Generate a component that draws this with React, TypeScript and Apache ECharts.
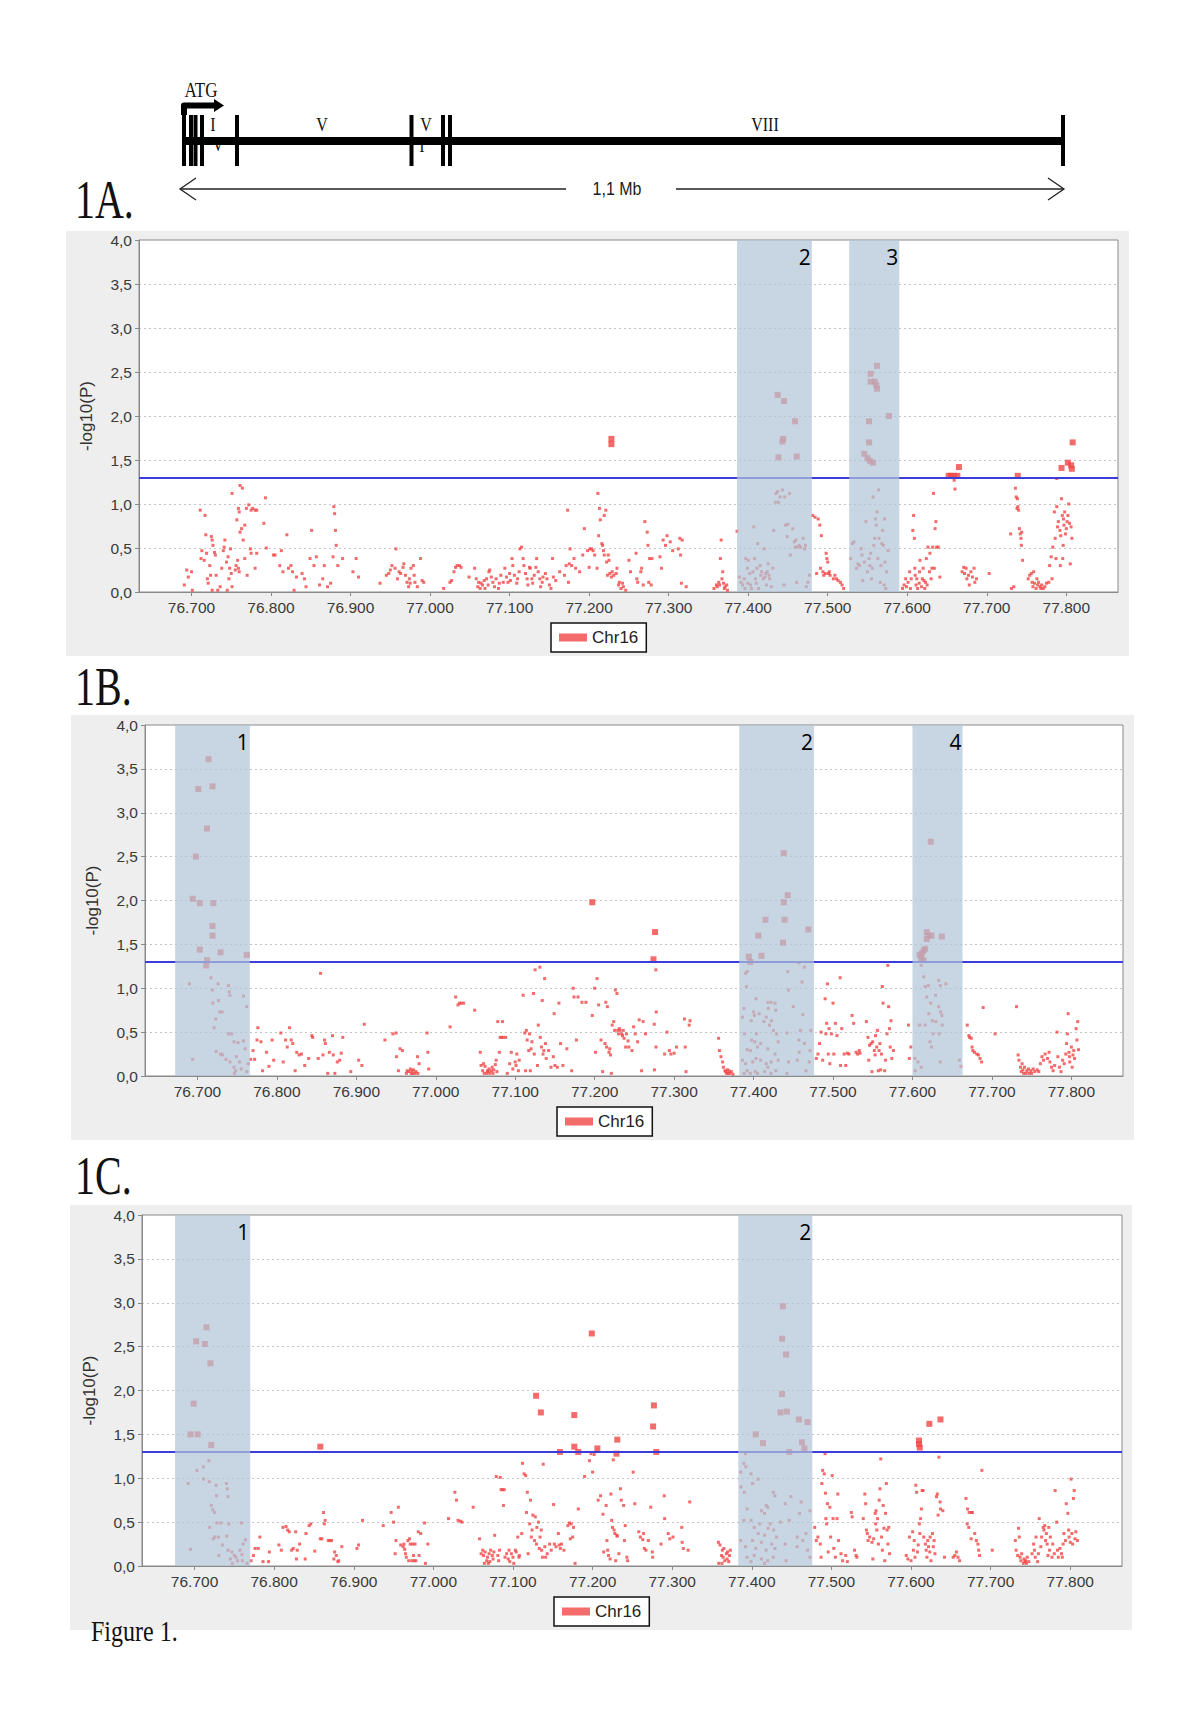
import React, { useEffect, useRef } from "react";
import * as echarts from "echarts";

const SANS = '"Liberation Sans", Arial, sans-serif';
const SERIF = '"Liberation Serif", "Times New Roman", serif';
const RED = "#f04646";
const THRESH = 1.301;
const XMIN = 76.634;
const XMAX = 77.865;
const X_TICKS = [76.7, 76.8, 76.9, 77.0, 77.1, 77.2, 77.3, 77.4, 77.5, 77.6, 77.7, 77.8];
const LEGEND_NAME = "Chr16";

// ---------- Panel 1A ----------
const regionsA = [[77.386, 77.48, "2"], [77.527, 77.59, "3"]];
const bigA = [[77.228,1.74],[77.228,1.68],[77.437,2.24],[77.445,2.17],[77.459,1.94],[77.444,1.74],[77.443,1.71],[77.438,1.53],[77.461,1.54],[77.562,2.57],[77.554,2.48],[77.554,2.39],[77.559,2.39],[77.561,2.35],[77.562,2.31],[77.577,2.0],[77.552,1.94],[77.552,1.7],[77.546,1.57],[77.55,1.52],[77.553,1.49],[77.557,1.47],[77.652,1.32],[77.655,1.32],[77.659,1.32],[77.663,1.32],[77.665,1.42],[77.739,1.32],[77.794,1.41],[77.802,1.47],[77.806,1.44],[77.807,1.4],[77.808,1.7]];
const smallA = [
[76.691,0.08],[76.694,0.25],[76.696,0.17],[76.7,0.23],[76.701,0.02],
[76.711,0.93],[76.717,0.87],[76.712,0.38],[76.713,0.47],[76.718,0.65],[76.721,0.1],[76.723,0.3],[76.725,0.63],[76.726,0.59],[76.727,0.53],[76.729,0.45],[76.73,0.42],[76.731,0.19],[76.736,0.06],[76.719,0.44],[76.724,0.19],[76.716,0.36],[76.72,0.15],[76.738,0.27],[76.74,0.47],[76.741,0.51],[76.742,0.59],[76.744,0.34],[76.746,0.4],[76.747,0.15],[76.748,0.27],[76.749,0.49],[76.75,0.21],[76.751,0.06],[76.755,0.25],[76.756,0.3],[76.758,0.36],[76.759,0.27],[76.76,0.23],[76.726,0.02],[76.733,0.02],[76.745,0.02],
[76.751,1.12],[76.757,0.82],[76.759,0.95],[76.76,0.91],[76.761,1.21],[76.764,1.18],[76.763,0.72],[76.761,0.68],[76.765,0.59],[76.767,0.76],[76.769,0.95],[76.772,0.99],[76.775,0.93],[76.777,0.95],[76.78,0.93],[76.782,0.93],[76.774,0.49],[76.775,0.44],[76.767,0.38],[76.77,0.19],[76.78,0.27],[76.782,0.44],[76.791,0.78],[76.793,1.07],[76.794,0.5],[76.803,0.42],
[76.805,0.42],[76.811,0.3],[76.813,0.47],[76.815,0.23],[76.82,0.65],[76.822,0.27],[76.825,0.3],[76.827,0.23],[76.829,0.02],[76.832,0.17],[76.839,0.21],[76.842,0.15],[76.844,0.06],[76.849,0.38],[76.851,0.7],[76.854,0.3],[76.857,0.4],[76.861,0.08],[76.865,0.15],[76.867,0.3],[76.871,0.06],[76.875,0.1],[76.878,0.4],[76.879,0.97],[76.88,0.89],[76.881,0.7],[76.882,0.53],[76.884,0.3],[76.89,0.38],[76.903,0.23],[76.907,0.38],[76.91,0.17],
[76.937,0.1],[76.945,0.19],[76.948,0.21],[76.95,0.25],[76.952,0.3],[76.956,0.27],[76.957,0.49],[76.959,0.15],[76.961,0.23],[76.963,0.21],[76.966,0.28],[76.967,0.32],[76.969,0.19],[76.971,0.11],[76.973,0.06],[76.974,0.15],[76.975,0.1],[76.976,0.27],[76.979,0.3],[76.98,0.19],[76.981,0.11],[76.984,0.06],[76.988,0.38],[76.99,0.13],[76.992,0.11],
[77.017,0.04],[77.025,0.11],[77.027,0.13],[77.03,0.23],[77.032,0.28],[77.034,0.3],[77.037,0.3],[77.039,0.28],[77.049,0.17],
[77.056,0.27],[77.058,0.15],[77.06,0.06],[77.061,0.11],[77.063,0.04],[77.064,0.1],[77.066,0.08],[77.068,0.13],[77.069,0.04],[77.071,0.15],[77.073,0.08],[77.074,0.23],[77.075,0.25],[77.077,0.17],[77.079,0.11],[77.081,0.06],[77.083,0.15],[77.086,0.04],[77.087,0.1],[77.089,0.19],[77.092,0.11],[77.094,0.27],[77.096,0.17],[77.098,0.11],[77.1,0.21],[77.101,0.13],[77.103,0.38],[77.104,0.3],[77.106,0.19],[77.109,0.1],[77.11,0.15],[77.112,0.23],[77.113,0.49],[77.115,0.51],[77.117,0.38],[77.118,0.3],[77.12,0.21],[77.122,0.15],[77.123,0.08],[77.125,0.28],[77.126,0.27],[77.128,0.15],[77.129,0.1],[77.131,0.19],[77.133,0.28],[77.134,0.38],[77.136,0.23],[77.138,0.15],[77.139,0.06],[77.141,0.11],[77.142,0.17],[77.145,0.21],[77.147,0.15],[77.15,0.08],[77.152,0.04],[77.154,0.38],[77.155,0.17],[77.158,0.13],
[77.163,0.23],[77.169,0.19],[77.171,0.3],[77.173,0.93],[77.174,0.11],[77.175,0.32],[77.176,0.49],[77.178,0.3],[77.181,0.38],[77.183,0.27],[77.188,0.23],[77.192,0.42],[77.194,0.72],[77.198,0.47],[77.2,0.28],[77.201,0.49],[77.203,0.49],[77.205,0.47],[77.207,0.42],[77.21,0.27],[77.211,1.12],[77.212,0.64],[77.213,0.95],[77.214,0.82],[77.216,0.55],[77.217,0.53],[77.218,0.47],[77.219,0.87],[77.221,0.93],[77.219,0.42],[77.222,0.34],[77.223,0.19],[77.224,0.42],[77.225,0.36],[77.226,0.21],[77.228,0.17],[77.229,0.23],[77.231,0.19],[77.234,0.21],[77.235,0.27],[77.237,0.08],[77.238,0.11],[77.24,0.04],[77.242,0.1],[77.243,0.06],[77.246,0.02],
[77.25,0.36],[77.252,0.23],[77.259,0.44],[77.26,0.15],[77.261,0.11],[77.265,0.23],[77.266,0.27],[77.268,0.08],[77.27,0.8],[77.273,0.68],[77.274,0.53],[77.275,0.11],[77.276,0.38],[77.278,0.08],[77.279,0.38],[77.289,0.4],[77.291,0.27],[77.293,0.59],[77.296,0.53],[77.298,0.64],[77.302,0.57],[77.305,0.47],[77.312,0.49],[77.314,0.61],[77.315,0.42],[77.316,0.1],[77.322,0.06],[77.317,0.59],
[77.357,0.04],[77.36,0.08],[77.361,0.06],[77.363,0.11],[77.364,0.08],[77.365,0.38],[77.366,0.59],[77.367,0.15],[77.368,0.23],[77.369,0.1],[77.37,0.04],[77.371,0.06],[77.373,0.08],[77.374,0.02],
[77.386,0.69],[77.389,0.17],[77.391,0.11],[77.393,0.08],[77.395,0.15],[77.396,0.04],[77.397,0.38],[77.399,0.27],[77.3995,0.1],[77.4,0.36],[77.402,0.21],[77.403,0.08],[77.404,0.04],[77.406,0.23],[77.407,0.74],[77.408,0.38],[77.409,0.15],[77.41,0.1],[77.411,0.27],[77.412,0.55],[77.413,0.04],[77.415,0.3],[77.416,0.19],[77.417,0.23],[77.419,0.15],[77.42,0.49],[77.421,0.17],[77.422,0.21],[77.423,0.08],[77.424,0.23],[77.425,0.32],[77.426,0.19],[77.427,0.15],[77.429,0.06],[77.431,0.27],[77.432,0.7],[77.434,1.02],[77.435,1.12],[77.437,1.14],[77.438,1.02],[77.44,1.08],[77.443,1.16],[77.445,0.08],[77.446,1.08],[77.447,0.76],[77.449,0.63],[77.45,0.77],[77.452,1.12],[77.453,0.42],[77.456,0.72],[77.458,0.57],[77.459,0.51],[77.46,0.59],[77.461,0.11],[77.462,0.51],[77.464,0.53],[77.466,0.51],[77.469,0.61],[77.471,0.49],[77.472,0.53],[77.473,0.06],[77.475,0.11],[77.477,0.19],
[77.481,0.87],[77.484,0.85],[77.486,0.21],[77.488,0.83],[77.49,0.76],[77.491,0.27],[77.492,0.64],[77.494,0.23],[77.495,0.19],[77.497,0.21],[77.498,0.44],[77.499,0.38],[77.5,0.34],[77.501,0.21],[77.502,0.23],[77.503,0.19],[77.507,0.15],[77.509,0.19],[77.511,0.15],[77.513,0.13],[77.516,0.11],[77.518,0.08],[77.52,0.04],
[77.529,0.38],[77.531,0.55],[77.533,0.57],[77.536,0.27],[77.538,0.32],[77.54,0.3],[77.542,0.49],[77.543,0.42],[77.544,0.13],[77.546,0.34],[77.548,0.8],[77.55,0.23],[77.552,0.38],[77.553,0.3],[77.554,0.44],[77.555,0.15],[77.556,0.27],[77.557,1.08],[77.558,0.53],[77.559,0.61],[77.56,0.83],[77.561,0.76],[77.562,0.91],[77.563,0.38],[77.564,1.16],[77.5645,0.61],[77.566,0.11],[77.567,0.3],[77.568,0.55],[77.569,0.7],[77.57,0.53],[77.571,0.08],[77.5715,0.83],[77.572,0.34],[77.573,0.04],[77.574,0.23],[77.576,0.47],
[77.594,0.04],[77.596,0.08],[77.598,0.15],[77.599,0.06],[77.601,0.11],[77.603,0.23],[77.604,0.04],[77.605,0.15],[77.607,0.7],[77.608,0.87],[77.609,0.61],[77.6095,0.27],[77.61,0.19],[77.611,0.08],[77.612,0.15],[77.613,0.04],[77.615,0.1],[77.6155,0.23],[77.616,0.36],[77.618,0.06],[77.619,0.15],[77.62,0.27],[77.621,0.13],[77.622,0.04],[77.623,0.11],[77.624,0.38],[77.625,0.08],[77.626,0.51],[77.628,0.23],[77.6285,0.44],[77.63,0.15],[77.631,0.27],[77.632,0.51],[77.633,1.12],[77.634,0.27],[77.635,0.72],[77.636,0.8],[77.637,0.51],[77.639,0.51],[77.641,0.17],[77.659,1.27],[77.66,1.17],
[77.669,0.23],[77.671,0.28],[77.672,0.21],[77.674,0.27],[77.675,0.15],[77.677,0.19],[77.678,0.08],[77.68,0.23],[77.682,0.17],[77.684,0.27],[77.685,0.11],[77.687,0.15],[77.703,0.21],
[77.73,0.66],[77.731,0.04],[77.734,0.06],[77.736,1.18],[77.737,1.08],[77.738,0.95],[77.739,0.97],[77.74,0.93],[77.741,0.72],[77.742,0.66],[77.743,0.61],[77.7435,0.53],[77.744,0.68],[77.745,0.36],[77.7385,1.06],
[77.752,0.15],[77.754,0.19],[77.756,0.21],[77.757,0.11],[77.758,0.06],[77.759,0.23],[77.76,0.1],[77.762,0.04],[77.763,0.15],[77.764,0.08],[77.765,0.11],[77.767,0.06],[77.768,0.04],[77.769,0.08],[77.771,0.04],[77.773,0.06],[77.775,0.1],[77.778,0.11],[77.779,0.3],[77.781,0.4],[77.782,0.15],[77.783,0.51],[77.785,0.91],[77.786,0.61],[77.787,0.38],[77.788,0.97],[77.789,0.74],[77.79,0.8],[77.792,0.7],[77.793,0.64],[77.794,1.06],[77.795,0.87],[77.796,0.53],[77.7965,0.83],[77.797,0.76],[77.798,0.91],[77.799,0.66],[77.8,0.72],[77.801,0.8],[77.802,0.87],[77.803,1.0],[77.804,0.78],[77.805,0.32],[77.806,0.74],[77.807,0.61],[77.7955,0.38],[77.7925,0.3],[77.788,1.29]
];

// ---------- Panel 1B ----------
const regionsB = [[76.672, 76.766, "1"], [77.382, 77.476, "2"], [77.6, 77.663, "4"]];
const bigB = [[76.714,3.61],[76.701,3.27],[76.719,3.3],[76.712,2.82],[76.698,2.5],[76.694,2.02],[76.703,1.97],[76.72,1.97],[76.719,1.71],[76.719,1.6],[76.703,1.44],[76.729,1.41],[76.762,1.38],[76.712,1.32],[76.711,1.26],[77.197,1.98],[77.276,1.64],[77.274,1.33],[77.438,2.54],[77.443,2.06],[77.438,1.98],[77.415,1.78],[77.439,1.78],[77.469,1.67],[77.406,1.6],[77.437,1.52],[77.394,1.36],[77.41,1.37],[77.396,1.3],[77.623,2.67],[77.618,1.64],[77.62,1.6],[77.624,1.6],[77.637,1.59],[77.618,1.56],[77.616,1.45],[77.614,1.43],[77.612,1.4],[77.609,1.38],[77.611,1.34],[77.614,1.32]];
const smallB = [
[76.69,1.05],[76.717,1.12],[76.726,1.05],[76.719,0.98],[76.739,1.03],[76.74,0.96],[76.741,0.92],[76.758,0.91],[76.762,0.79],[76.7195,0.83],[76.7265,0.86],[76.728,0.73],[76.731,0.73],[76.723,0.65],[76.721,0.55],[76.739,0.48],[76.743,0.48],[76.746,0.39],[76.751,0.38],[76.758,0.4],[76.76,0.31],[76.7235,0.28],[76.729,0.25],[76.7315,0.24],[76.736,0.19],[76.694,0.19],[76.741,0.16],[76.746,0.1],[76.748,0.06],[76.749,0.22],[76.753,0.16],[76.755,0.08],[76.762,0.05],[76.764,0.14],[76.7465,0.03],
[76.767,0.19],[76.77,0.29],[76.772,0.19],[76.776,0.55],[76.775,0.41],[76.78,0.39],[76.782,0.06],[76.787,0.27],[76.79,0.11],[76.794,0.41],[76.796,0.18],[76.805,0.49],[76.808,0.16],[76.811,0.41],[76.813,0.33],[76.816,0.55],[76.818,0.41],[76.82,0.37],[76.823,0.06],[76.825,0.27],[76.828,0.24],[76.831,0.25],[76.835,0.12],[76.84,0.2],[76.844,0.46],[76.845,0.44],[76.852,0.2],[76.855,1.17],[76.858,0.24],[76.86,0.41],[76.861,0.37],[76.864,0.03],[76.866,0.27],[76.87,0.46],[76.871,0.24],[76.873,0.03],[76.876,0.16],[76.879,0.18],[76.881,0.26],[76.883,0.44],[76.893,0.05],[76.903,0.18],[76.907,0.12],[76.91,0.59],
[76.936,0.41],[76.946,0.48],[76.95,0.49],[76.9505,0.22],[76.953,0.06],[76.955,0.31],[76.958,0.29],[76.963,0.03],[76.964,0.06],[76.966,0.05],[76.968,0.08],[76.969,0.03],[76.97,0.06],[76.971,0.03],[76.972,0.07],[76.974,0.03],[76.975,0.05],[76.977,0.22],[76.9775,0.03],[76.979,0.14],[76.989,0.49],[76.99,0.27],[76.991,0.08],
[77.018,0.56],[77.025,0.9],[77.028,0.81],[77.03,0.83],[77.032,0.83],[77.035,0.83],[77.049,0.75],[77.056,0.27],[77.057,0.12],[77.059,0.06],[77.06,0.14],[77.061,0.03],[77.062,0.11],[77.064,0.03],[77.065,0.06],[77.066,0.05],[77.067,0.08],[77.068,0.03],[77.07,0.06],[77.071,0.1],[77.072,0.03],[77.073,0.07],[77.075,0.13],[77.076,0.18],[77.077,0.05],[77.078,0.62],[77.08,0.27],[77.081,0.44],[77.083,0.44],[77.084,0.62],[77.085,0.44],[77.088,0.44],[77.09,0.03],[77.093,0.14],[77.095,0.27],[77.097,0.08],[77.1,0.16],[77.101,0.12],[77.102,0.25],[77.104,0.06],[77.105,0.18],
[77.11,0.92],[77.112,0.49],[77.113,0.06],[77.114,0.52],[77.115,0.41],[77.117,0.29],[77.118,0.48],[77.119,0.06],[77.12,0.31],[77.121,0.39],[77.123,0.94],[77.124,0.25],[77.125,1.21],[77.128,0.12],[77.129,0.58],[77.131,1.24],[77.1315,0.44],[77.133,0.33],[77.134,0.86],[77.135,0.25],[77.136,0.29],[77.137,1.11],[77.138,0.37],[77.139,0.2],[77.142,0.29],[77.145,0.1],[77.148,0.22],[77.149,0.71],[77.15,0.12],[77.153,0.1],[77.155,0.83],[77.157,0.37],[77.16,0.12],[77.165,0.31],[77.171,0.06],[77.173,1.0],[77.174,0.9],[77.177,0.41],[77.179,0.9],[77.184,0.84],[77.189,0.84],[77.197,0.69],[77.2,1.0],[77.201,0.27],[77.203,1.11],[77.205,0.81],[77.208,0.41],[77.21,0.05],[77.213,0.37],[77.214,0.84],[77.215,0.33],[77.216,0.79],[77.218,0.27],[77.219,0.31],[77.22,0.24],[77.221,0.03],[77.222,0.58],[77.224,0.62],[77.225,0.52],[77.226,0.98],[77.228,0.94],[77.229,0.52],[77.23,0.48],[77.231,0.54],[77.232,0.52],[77.234,0.48],[77.235,0.46],[77.236,0.52],[77.237,0.43],[77.239,0.33],[77.24,0.48],[77.242,0.4],[77.243,0.33],[77.247,0.29],[77.249,0.56],[77.251,0.48],[77.254,0.39],[77.256,0.64],[77.259,0.06],[77.261,0.62],[77.264,0.48],
[77.277,1.21],[77.2775,0.73],[77.275,0.59],[77.2772,0.33],[77.2752,0.07],[77.288,0.25],[77.291,0.5],[77.294,0.29],[77.296,0.25],[77.3,0.26],[77.303,0.33],[77.313,0.65],[77.314,0.33],[77.315,0.05],[77.32,0.63],[77.319,0.58],
[77.356,0.43],[77.357,0.29],[77.359,0.22],[77.361,0.16],[77.362,0.1],[77.364,0.06],[77.365,0.05],[77.366,0.03],[77.367,0.07],[77.368,0.03],[77.369,0.06],[77.37,0.03],[77.372,0.05],[77.374,0.02],
[77.392,1.19],[77.39,1.17],[77.391,1.02],[77.457,1.29],[77.464,1.24],[77.461,1.07],[77.443,1.19],[77.444,0.98],[77.403,0.88],[77.418,0.84],[77.422,0.84],[77.427,0.83],[77.388,0.77],[77.4,0.73],[77.407,0.71],[77.4185,0.77],[77.428,0.75],[77.45,0.79],[77.386,0.67],[77.401,0.69],[77.416,0.67],[77.4225,0.63],[77.462,0.7],[77.397,0.63],[77.413,0.62],[77.42,0.58],[77.425,0.52],[77.3885,0.48],[77.4035,0.48],[77.429,0.48],[77.442,0.49],[77.459,0.52],[77.472,0.52],[77.3975,0.41],[77.4015,0.39],[77.409,0.37],[77.431,0.39],[77.457,0.41],[77.464,0.37],[77.392,0.3],[77.396,0.29],[77.405,0.33],[77.418,0.31],[77.427,0.25],[77.4575,0.27],[77.471,0.29],[77.386,0.18],[77.39,0.14],[77.399,0.16],[77.403,0.2],[77.409,0.18],[77.416,0.14],[77.418,0.1],[77.422,0.16],[77.428,0.06],[77.431,0.18],[77.444,0.16],[77.455,0.18],[77.47,0.16],[77.388,0.03],[77.392,0.06],[77.396,0.03],[77.402,0.05],[77.405,0.03],[77.414,0.05],[77.422,0.03],[77.442,0.03],[77.466,0.06],
[77.479,0.2],[77.481,0.25],[77.483,0.37],[77.485,0.5],[77.487,0.18],[77.49,0.88],[77.491,0.48],[77.492,0.6],[77.493,1.05],[77.494,0.25],[77.495,0.54],[77.496,0.14],[77.498,0.48],[77.5,0.83],[77.501,0.25],[77.503,0.6],[77.505,0.46],[77.509,1.12],[77.5095,0.12],[77.511,0.54],[77.514,0.25],[77.516,0.12],[77.518,0.26],[77.52,0.25],[77.524,0.69],[77.526,0.6],[77.529,0.27],[77.531,0.25],[77.533,0.29],[77.534,0.26],[77.542,0.62],[77.544,0.44],[77.545,0.18],[77.546,0.35],[77.548,0.37],[77.549,0.05],[77.55,0.39],[77.552,0.29],[77.553,0.24],[77.5535,0.46],[77.555,0.33],[77.556,0.52],[77.557,0.06],[77.558,0.29],[77.559,0.37],[77.56,0.07],[77.561,0.25],[77.562,1.02],[77.563,0.83],[77.565,0.06],[77.566,0.18],[77.568,0.48],[77.569,1.26],[77.57,0.79],[77.571,0.54],[77.572,0.33],[77.573,0.63],[77.574,0.2],[77.576,0.29],[77.595,0.58],[77.596,0.2],[77.598,0.33],
[77.611,1.26],[77.614,1.13],[77.616,1.02],[77.62,1.03],[77.633,1.09],[77.635,1.03],[77.642,1.05],[77.618,0.9],[77.629,0.92],[77.623,0.83],[77.633,0.79],[77.6205,0.71],[77.6355,0.73],[77.637,0.69],[77.625,0.63],[77.6295,0.62],[77.616,0.58],[77.609,0.58],[77.6375,0.58],[77.626,0.48],[77.622,0.39],[77.624,0.33],[77.6335,0.48],[77.603,0.2],[77.607,0.16],[77.611,0.1],[77.635,0.16],[77.659,0.18],[77.661,0.11],[77.6035,0.06],
[77.669,0.58],[77.671,0.46],[77.672,0.44],[77.674,0.43],[77.675,0.33],[77.676,0.29],[77.678,0.27],[77.681,0.25],[77.683,0.24],[77.685,0.2],[77.687,0.16],[77.689,0.78],[77.704,0.48],[77.731,0.79],
[77.733,0.24],[77.734,0.18],[77.736,0.1],[77.737,0.05],[77.738,0.14],[77.739,0.07],[77.74,0.03],[77.741,0.1],[77.743,0.03],[77.744,0.06],[77.746,0.08],[77.747,0.03],[77.749,0.06],[77.75,0.03],[77.752,0.08],[77.754,0.05],[77.757,0.07],[77.759,0.05],[77.761,0.14],[77.763,0.22],[77.765,0.18],[77.767,0.25],[77.77,0.2],[77.772,0.27],[77.773,0.16],[77.775,0.1],[77.777,0.06],[77.779,0.12],[77.782,0.5],[77.783,0.22],[77.785,0.1],[77.787,0.05],[77.789,0.18],[77.791,0.14],[77.793,0.25],[77.794,0.37],[77.795,0.48],[77.796,0.71],[77.797,0.27],[77.7975,0.22],[77.798,0.16],[77.8,0.33],[77.801,0.1],[77.802,0.24],[77.803,0.29],[77.804,0.2],[77.806,0.54],[77.807,0.41],[77.808,0.62],[77.809,0.3]
];

// ---------- Panel 1C ----------
const regionsC = [[76.6755, 76.77, "1"], [77.383, 77.476, "2"]];
const bigC = [[76.715,2.72],[76.702,2.56],[76.713,2.53],[76.72,2.31],[76.699,1.85],[76.695,1.5],[76.704,1.5],[76.721,1.38],[76.858,1.36],[77.129,1.94],[77.135,1.75],[77.177,1.72],[77.177,1.36],[77.159,1.3],[77.182,1.3],[77.199,2.65],[77.206,1.34],[77.231,1.44],[77.23,1.28],[77.277,1.83],[77.276,1.59],[77.28,1.3],[77.439,2.96],[77.438,2.59],[77.443,2.41],[77.438,1.96],[77.436,1.75],[77.444,1.76],[77.459,1.67],[77.47,1.64],[77.405,1.5],[77.414,1.4],[77.463,1.41],[77.466,1.34],[77.447,1.3],[77.61,1.43],[77.61,1.39],[77.611,1.35],[77.623,1.62],[77.637,1.67]];
const smallC = [
[76.718,1.2],[76.711,1.13],[76.703,1.09],[76.7115,0.99],[76.692,0.94],[76.7185,0.96],[76.727,0.92],[76.74,0.94],[76.741,0.88],[76.742,0.79],[76.7275,0.8],[76.721,0.69],[76.723,0.64],[76.725,0.61],[76.728,0.49],[76.733,0.49],[76.743,0.48],[76.759,0.49],[76.719,0.44],[76.7235,0.31],[76.7255,0.33],[76.73,0.33],[76.7405,0.34],[76.764,0.3],[76.761,0.25],[76.735,0.24],[76.695,0.19],[76.742,0.18],[76.747,0.16],[76.75,0.12],[76.752,0.1],[76.757,0.18],[76.7595,0.13],[76.7305,0.12],[76.745,0.08],[76.754,0.06],[76.76,0.06],[76.766,0.03],[76.7475,0.03],
[76.771,0.06],[76.774,0.12],[76.776,0.2],[76.78,0.2],[76.782,0.33],[76.786,0.05],[76.793,0.05],[76.794,0.16],[76.806,0.24],[76.809,0.18],[76.811,0.44],[76.815,0.45],[76.817,0.41],[76.819,0.39],[76.822,0.18],[76.824,0.2],[76.827,0.39],[76.828,0.08],[76.829,0.18],[76.832,0.25],[76.839,0.08],[76.84,0.37],[76.844,0.46],[76.846,0.48],[76.851,0.17],[76.858,0.31],[76.86,0.31],[76.862,0.61],[76.863,0.48],[76.864,0.52],[76.868,0.29],[76.87,0.29],[76.872,0.29],[76.875,0.08],[76.876,0.16],[76.878,0.12],[76.88,0.05],[76.881,0.06],[76.885,0.22],[76.904,0.2],[76.906,0.24],[76.911,0.52],
[76.937,0.46],[76.947,0.61],[76.95,0.5],[76.952,0.14],[76.953,0.29],[76.956,0.67],[76.959,0.24],[76.962,0.22],[76.963,0.25],[76.964,0.19],[76.965,0.14],[76.966,0.1],[76.968,0.29],[76.969,0.06],[76.97,0.31],[76.971,0.25],[76.973,0.06],[76.974,0.25],[76.975,0.12],[76.976,0.06],[76.977,0.25],[76.978,0.06],[76.981,0.39],[76.982,0.12],[76.984,0.37],[76.989,0.49],[76.99,0.03],[76.993,0.25],
[77.019,0.54],[77.027,0.84],[77.029,0.75],[77.031,0.52],[77.034,0.51],[77.036,0.5],[77.05,0.67],[77.058,0.31],[77.06,0.14],[77.062,0.18],[77.063,0.12],[77.064,0.03],[77.065,0.16],[77.067,0.06],[77.068,0.1],[77.069,0.03],[77.07,0.14],[77.071,0.05],[77.072,0.18],[77.074,0.12],[77.075,0.08],[77.076,0.16],[77.077,0.35],[77.079,1.02],[77.081,0.12],[77.082,0.06],[77.083,0.18],[77.084,1.01],[77.085,0.87],[77.087,0.87],[77.088,0.69],[77.089,0.87],[77.09,0.1],[77.092,0.14],[77.094,0.08],[77.095,0.18],[77.096,0.05],[77.098,0.14],[77.1,0.1],[77.101,0.03],[77.103,0.18],[77.104,0.16],[77.106,0.33],[77.1075,0.1],[77.108,0.12],[77.111,0.37],
[77.112,1.17],[77.114,1.05],[77.116,1.03],[77.117,0.61],[77.118,0.84],[77.119,0.14],[77.121,0.48],[77.122,0.75],[77.123,0.33],[77.124,0.41],[77.125,0.58],[77.127,0.29],[77.128,0.56],[77.1295,0.25],[77.13,0.44],[77.132,0.5],[77.133,0.2],[77.134,0.33],[77.1355,0.41],[77.136,0.18],[77.137,0.1],[77.138,1.16],[77.14,0.22],[77.141,0.1],[77.143,0.14],[77.146,0.25],[77.148,0.18],[77.151,0.7],[77.152,0.25],[77.154,0.22],[77.157,0.37],[77.158,0.24],[77.1595,0.2],[77.161,0.25],[77.164,0.18],[77.169,0.46],[77.171,0.49],[77.172,0.31],[77.173,0.48],[77.175,0.33],[77.176,0.44],[77.178,0.03],[77.182,0.65],[77.19,1.02],[77.196,1.2],[77.198,1.28],[77.2,1.07],[77.202,1.27],[77.207,0.75],[77.21,0.8],[77.213,0.59],[77.214,0.16],[77.217,0.69],[77.218,0.29],[77.219,0.18],[77.22,0.12],[77.222,0.08],[77.223,0.82],[77.224,0.52],[77.225,0.44],[77.227,0.41],[77.228,0.37],[77.229,0.06],[77.2305,0.35],[77.231,0.34],[77.233,0.14],[77.235,0.88],[77.236,0.75],[77.239,0.69],[77.24,0.29],[77.241,0.46],[77.243,0.1],[77.244,0.06],[77.226,1.21],[77.251,1.07],[77.253,0.71],[77.258,0.39],[77.26,0.33],[77.263,0.3],[77.265,0.2],[77.267,0.18],[77.27,0.29],
[77.264,0.37],[77.273,0.67],[77.275,0.16],[77.2755,0.1],[77.286,0.25],[77.29,0.8],[77.2905,0.54],[77.295,0.37],[77.297,0.31],[77.301,0.33],[77.312,0.44],[77.3125,0.27],[77.314,0.2],[77.32,0.18],[77.322,0.73],
[77.358,0.27],[77.36,0.24],[77.362,0.12],[77.363,0.18],[77.364,0.1],[77.365,0.2],[77.366,0.06],[77.368,0.14],[77.369,0.08],[77.3695,0.16],[77.371,0.05],[77.372,0.12],[77.373,0.18],[77.3585,0.03],[77.3625,0.03],
[77.392,1.28],[77.39,1.17],[77.3925,1.13],[77.386,1.07],[77.399,1.05],[77.408,0.99],[77.401,0.94],[77.3865,0.9],[77.3905,0.84],[77.427,0.84],[77.429,0.8],[77.449,0.79],[77.462,0.73],[77.442,0.71],[77.418,0.69],[77.42,0.67],[77.394,0.65],[77.412,0.63],[77.473,0.63],[77.416,0.6],[77.46,0.6],[77.39,0.52],[77.399,0.52],[77.41,0.48],[77.423,0.48],[77.436,0.5],[77.447,0.52],[77.403,0.44],[77.4205,0.43],[77.4275,0.41],[77.408,0.37],[77.416,0.35],[77.431,0.33],[77.457,0.33],[77.468,0.37],[77.386,0.29],[77.401,0.29],[77.412,0.27],[77.425,0.25],[77.442,0.25],[77.464,0.29],[77.392,0.22],[77.405,0.2],[77.418,0.18],[77.429,0.2],[77.457,0.22],[77.47,0.18],[77.394,0.1],[77.403,0.12],[77.412,0.08],[77.42,0.06],[77.427,0.1],[77.443,0.06],[77.473,0.1],[77.399,0.05],[77.416,0.03],
[77.479,0.44],[77.481,0.29],[77.483,0.33],[77.486,0.25],[77.487,0.1],[77.488,0.94],[77.489,1.09],[77.491,1.05],[77.492,1.28],[77.4925,0.83],[77.493,0.54],[77.494,0.48],[77.495,0.71],[77.496,0.16],[77.498,0.67],[77.499,0.33],[77.501,1.03],[77.502,0.54],[77.503,0.2],[77.505,0.1],[77.507,0.54],[77.508,0.82],[77.509,0.29],[77.512,0.14],[77.514,0.06],[77.518,0.12],[77.52,0.05],[77.525,0.61],[77.526,0.56],[77.529,0.18],[77.531,0.12],[77.532,0.1],[77.54,0.54],[77.542,0.82],[77.543,0.71],[77.544,0.41],[77.545,0.37],[77.546,0.29],[77.548,0.33],[77.551,0.27],[77.552,0.08],[77.553,0.31],[77.555,0.6],[77.5555,0.48],[77.556,0.63],[77.557,0.41],[77.558,0.54],[77.559,0.25],[77.56,0.75],[77.561,0.88],[77.562,1.22],[77.563,0.33],[77.564,0.18],[77.565,0.69],[77.566,0.43],[77.567,0.06],[77.568,0.6],[77.569,0.94],[77.57,0.41],[77.571,0.25],[77.572,0.44],[77.573,0.14],
[77.594,0.12],[77.596,0.08],[77.598,0.33],[77.6,0.06],[77.602,0.39],[77.603,0.18],[77.604,0.29],[77.605,0.1],[77.606,0.92],[77.607,0.84],[77.608,0.16],[77.609,0.24],[77.6105,0.48],[77.611,0.37],[77.612,0.54],[77.613,0.65],[77.614,0.86],[77.615,0.86],[77.616,0.33],[77.618,0.25],[77.619,0.18],[77.62,0.1],[77.621,0.29],[77.622,0.22],[77.6235,0.16],[77.624,0.33],[77.625,0.06],[77.627,0.37],[77.628,0.22],[77.629,0.29],[77.63,0.14],[77.632,0.79],[77.633,0.82],[77.634,0.58],[77.635,1.24],[77.6365,0.73],[77.637,0.65],[77.64,0.63],[77.642,0.1],[77.653,0.1],[77.655,0.12],[77.657,0.16],[77.659,0.1],[77.661,0.06],
[77.669,0.77],[77.671,0.65],[77.673,0.61],[77.676,0.61],[77.677,0.61],[77.6705,0.48],[77.6725,0.44],[77.6755,0.31],[77.68,0.37],[77.682,0.29],[77.684,0.25],[77.685,0.18],[77.686,0.12],[77.689,1.09],[77.702,0.18],
[77.731,0.29],[77.732,0.18],[77.734,0.12],[77.735,0.43],[77.736,0.33],[77.737,0.1],[77.738,0.06],[77.739,0.14],[77.741,0.03],[77.742,0.08],[77.743,0.05],[77.744,0.06],[77.745,0.03],[77.746,0.1],[77.748,0.05],[77.752,0.14],[77.754,0.25],[77.755,0.18],[77.756,0.1],[77.757,0.33],[77.759,0.05],[77.76,0.14],[77.761,0.54],[77.763,0.22],[77.764,0.33],[77.766,0.44],[77.767,0.41],[77.768,0.46],[77.769,0.29],[77.77,0.37],[77.771,0.25],[77.772,0.12],[77.773,0.44],[77.774,0.18],[77.775,0.33],[77.777,0.1],[77.778,0.25],[77.78,0.14],[77.781,0.86],[77.783,0.5],[77.784,0.18],[77.785,0.1],[77.787,0.2],[77.789,0.14],[77.79,0.1],[77.791,0.25],[77.792,0.37],[77.794,0.29],[77.795,0.71],[77.797,0.6],[77.798,0.41],[77.7985,0.33],[77.8,0.27],[77.801,0.99],[77.802,0.37],[77.803,0.25],[77.804,0.77],[77.805,0.86],[77.806,0.31],[77.807,0.39],[77.809,0.29]
];

// ---------- layout ----------
const GRIDS = [
  { left: 139, top: 240, width: 979, height: 352 },
  { left: 145, top: 725, width: 978, height: 351 },
  { left: 142, top: 1215, width: 980, height: 351 },
];
const PANEL_BG = [
  { x: 66, y: 231, w: 1063, h: 425 },
  { x: 71, y: 715, w: 1063, h: 425 },
  { x: 70, y: 1205, w: 1062, h: 425 },
];
const LEGEND_POS = [
  { left: 551, top: 623 },
  { left: 557, top: 1107 },
  { left: 554, top: 1597 },
];
const PANEL_LABELS = [
  { text: "1A.", x: 75, y: 200 },
  { text: "1B.", x: 75, y: 687 },
  { text: "1C.", x: 75, y: 1176 },
];
const PANELS = [
  { small: smallA, big: bigA, regions: regionsA },
  { small: smallB, big: bigB, regions: regionsB },
  { small: smallC, big: bigC, regions: regionsC },
];

// gene diagram
const EXON_BARS = [182, 189, 193.5, 200, 235, 409.5, 441, 448, 1061];
const GENE_LABELS = [
  { t: "I", x: 213, y: 124 },
  { t: "V", x: 322, y: 124 },
  { t: "V", x: 426, y: 124 },
  { t: "VIII", x: 765, y: 124 },
];
const GENE_LABELS_LOW = [
  { t: "V", x: 218, y: 144.5 },
  { t: "I", x: 422, y: 145.5 },
];

function serifText(t: string, x: number, y: number, size: number, sy: number, z: number, align = "center") {
  return {
    type: "text",
    x,
    y,
    scaleY: sy,
    z,
    silent: true,
    style: { text: t, font: `${size}px ${SERIF}`, fill: "#111", textAlign: align, textVerticalAlign: "middle" },
  };
}

function buildOption() {
  const graphics: any[] = [];
  PANEL_BG.forEach((b) => {
    graphics.push({ type: "rect", z: -10, silent: true, shape: { x: b.x, y: b.y, width: b.w, height: b.h }, style: { fill: "#eeeeee" } });
  });
  // gene diagram
  GENE_LABELS_LOW.forEach((l) => graphics.push(serifText(l.t, l.x, l.y, 16, 1.2, 5)));
  graphics.push({ type: "rect", z: 10, silent: true, shape: { x: 182, y: 137, width: 882, height: 8 }, style: { fill: "#000" } });
  EXON_BARS.forEach((bx) => {
    graphics.push({ type: "rect", z: 10, silent: true, shape: { x: bx, y: 115, width: 4, height: 51 }, style: { fill: "#000" } });
  });
  graphics.push({ type: "polyline", z: 10, silent: true, shape: { points: [[184, 115], [184, 105.5], [215, 105.5]] }, style: { stroke: "#000", lineWidth: 6, lineJoin: "round", fill: null } });
  graphics.push({ type: "polygon", z: 10, silent: true, shape: { points: [[214, 99], [224, 105.5], [214, 112]] }, style: { fill: "#000" } });
  graphics.push(serifText("ATG", 201, 89.5, 17, 1.2, 10));
  GENE_LABELS.forEach((l) => graphics.push(serifText(l.t, l.x, l.y, 16, 1.2, 10)));
  // 1,1 Mb arrow
  graphics.push({ type: "line", z: 10, silent: true, shape: { x1: 180, y1: 189, x2: 566, y2: 189 }, style: { stroke: "#222", lineWidth: 1.3 } });
  graphics.push({ type: "line", z: 10, silent: true, shape: { x1: 676, y1: 189, x2: 1064, y2: 189 }, style: { stroke: "#222", lineWidth: 1.3 } });
  graphics.push({ type: "polyline", z: 10, silent: true, shape: { points: [[196, 178], [180, 189], [196, 200]] }, style: { stroke: "#222", lineWidth: 1.3, fill: null } });
  graphics.push({ type: "polyline", z: 10, silent: true, shape: { points: [[1048, 178], [1064, 189], [1048, 200]] }, style: { stroke: "#222", lineWidth: 1.3, fill: null } });
  graphics.push({ type: "text", z: 10, silent: true, x: 617, y: 189, scaleY: 1.1, style: { text: "1,1 Mb", font: `16px ${SANS}`, fill: "#222", textAlign: "center", textVerticalAlign: "middle" } });
  // panel labels
  PANEL_LABELS.forEach((p) => graphics.push(serifText(p.text, p.x, p.y, 40, 1.35, 10, "left")));
  graphics.push(serifText("Figure 1.", 91, 1631, 24, 1.2, 10, "left"));

  const grid = GRIDS.map((g) => ({ ...g, show: true, backgroundColor: "#ffffff", borderColor: "#8a8a8a", borderWidth: 1 }));

  const xAxis = GRIDS.map((_, i) => ({
    gridIndex: i,
    type: "value",
    min: XMIN,
    max: XMAX,
    axisLine: { show: true, onZero: false, lineStyle: { color: "#8a8a8a" } },
    axisTick: { show: true, length: 4, customValues: X_TICKS, lineStyle: { color: "#8a8a8a" } },
    axisLabel: { customValues: X_TICKS, formatter: (v: number) => v.toFixed(3), color: "#3a3a3a", fontSize: 15.5, fontFamily: SANS, margin: 7 },
    splitLine: { show: false },
  }));

  const yAxis = GRIDS.map((_, i) => ({
    gridIndex: i,
    type: "value",
    min: 0,
    max: 4,
    interval: 0.5,
    name: "-log10(P)",
    nameLocation: "middle",
    nameGap: 44,
    nameTextStyle: { fontSize: 17, color: "#333", fontFamily: SANS },
    axisLine: { show: true, lineStyle: { color: "#8a8a8a" } },
    axisTick: { show: true, length: 4, lineStyle: { color: "#8a8a8a" } },
    axisLabel: { formatter: (v: number) => v.toFixed(1).replace(".", ","), color: "#3a3a3a", fontSize: 15.5, fontFamily: SANS, margin: 7 },
    splitLine: { show: true, lineStyle: { color: "#c4c4c4", type: [2, 3], width: 1 } },
  }));

  const series: any[] = [];
  PANELS.forEach((p, i) => {
    series.push({ name: LEGEND_NAME, type: "scatter", xAxisIndex: i, yAxisIndex: i, data: p.small, symbol: "rect", symbolSize: 3, itemStyle: { color: RED }, z: 2, silent: true });
    series.push({ name: LEGEND_NAME, type: "scatter", xAxisIndex: i, yAxisIndex: i, data: p.big, symbol: "rect", symbolSize: 6, itemStyle: { color: RED }, z: 2, silent: true });
    series.push({
      name: "threshold" + i, type: "scatter", xAxisIndex: i, yAxisIndex: i, data: [], z: 3, silent: true,
      markLine: { silent: true, z: 5, symbol: "none", label: { show: false }, lineStyle: { color: "#3c3cdc", width: 2, type: "solid" }, data: [{ yAxis: THRESH }] },
    });
    series.push({
      name: "regions" + i, type: "scatter", xAxisIndex: i, yAxisIndex: i, data: [], z: 4, silent: true,
      markArea: {
        silent: true,
        z: 10,
        itemStyle: { color: "rgba(178,196,214,0.71)" },
        label: { show: true, position: "insideTopRight", distance: 5, offset: [4, 1], color: "#000", fontSize: 21, fontFamily: '"Open Sans", "Noto Sans", sans-serif' },
        data: p.regions.map((r) => [{ xAxis: r[0], name: r[2] }, { xAxis: r[1] }]),
      },
    });
  });

  const legend = LEGEND_POS.map((l) => ({
    data: [LEGEND_NAME],
    left: l.left,
    top: l.top,
    icon: "rect",
    itemWidth: 28,
    itemHeight: 8,
    itemGap: 0,
    padding: [6, 8, 6, 8],
    backgroundColor: "#ffffff",
    borderColor: "#111",
    borderWidth: 1.5,
    selectedMode: false,
    textStyle: { fontSize: 17, color: "#222", fontFamily: SANS },
  }));

  return { animation: false, backgroundColor: "#ffffff", grid, xAxis, yAxis, series, legend, graphic: { elements: graphics } };
}

export default function App() {
  const ref = useRef<HTMLDivElement>(null);
  useEffect(() => {
    const chart = echarts.init(ref.current as HTMLDivElement, null, { renderer: "svg" });
    chart.setOption(buildOption() as any);
    return () => chart.dispose();
  }, []);
  return <div ref={ref} style={{ position: "absolute", left: 0, top: 0, width: 1200, height: 1734, background: "#fff" }} />;
}
